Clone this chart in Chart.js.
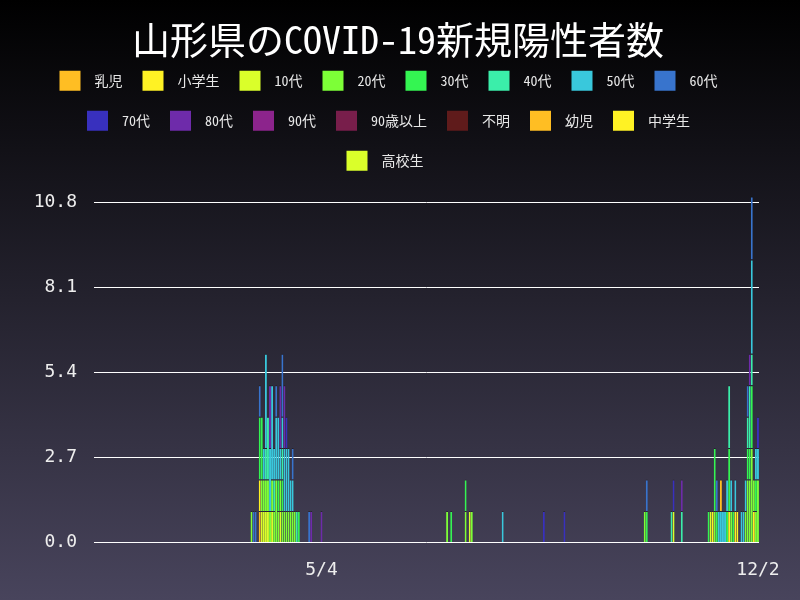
<!DOCTYPE html>
<html lang="ja">
<head>
<meta charset="utf-8">
<title>山形県のCOVID-19新規陽性者数</title>
<script src="https://cdn.jsdelivr.net/npm/chart.js@4"></script>
<style>
  html, body { margin: 0; padding: 0; }
  body { width: 800px; height: 600px; background: linear-gradient(to bottom, #000000 0%, #48445c 100%); }
  canvas { display: block; }
</style>
</head>
<body>
<canvas id="covidChart" width="800" height="600"></canvas>
<script>
// first and last day on the x axis (daily categories)
const START_DATE = [2020, 0, 15];
const END_DATE = [2020, 11, 2];
const TICK_LABELS = ['5/4', '12/2'];
const Y_TICKS = [0, 2.7, 5.4, 8.1, 10.8];

// new cases per day, [date, count] for each group
const INFANT = [['4/4', 1]];
const ELEMENTARY = [['4/4', 1], ['11/10', 1], ['11/18', 1], ['11/21', 1], ['11/22', 1], ['11/30', 1]];
const AGE_10 = [['4/5', 1], ['4/6', 1], ['4/7', 1], ['4/8', 1], ['4/10', 1], ['4/14', 1], ['7/15', 1], ['10/22', 1], ['11/9', 1]];
const AGE_20 = [['3/31', 1], ['4/5', 1], ['4/6', 1], ['4/7', 1], ['4/8', 1], ['4/9', 1], ['4/10', 1], ['4/11', 1],
  ['4/12', 2], ['4/13', 1], ['4/14', 1], ['4/15', 1], ['4/16', 1], ['4/17', 1], ['4/18', 1], ['4/19', 1], ['4/20', 1],
  ['4/21', 1], ['7/4', 1], ['7/13', 1], ['7/16', 1], ['10/8', 1], ['11/11', 1], ['11/19', 1], ['11/26', 1],
  ['11/27', 2], ['11/28', 2], ['11/29', 3], ['11/30', 1], ['12/1', 1], ['12/2', 2]];
const AGE_30 = [['4/4', 2], ['4/5', 2], ['4/13', 1], ['4/15', 1], ['4/23', 1], ['7/6', 1], ['7/13', 1], ['10/9', 1],
  ['11/8', 1], ['11/11', 2], ['11/12', 1], ['11/17', 1], ['11/18', 2], ['11/20', 1], ['11/27', 1], ['11/28', 1],
  ['11/29', 2], ['12/1', 1]];
const AGE_40 = [['4/7', 1], ['4/8', 2], ['4/11', 1], ['4/15', 1], ['4/22', 1], ['10/21', 1], ['10/26', 1], ['11/18', 2],
  ['11/27', 1], ['11/28', 2], ['11/29', 1]];
const AGE_50 = [['4/6', 1], ['4/7', 3], ['4/9', 2], ['4/10', 3], ['4/11', 1], ['4/12', 2], ['4/13', 2], ['4/14', 1],
  ['4/15', 1], ['4/16', 2], ['4/17', 2], ['4/18', 2], ['4/19', 1], ['4/20', 1], ['7/31', 1], ['11/13', 1], ['11/14', 1],
  ['11/15', 1], ['11/16', 1], ['11/17', 1], ['11/19', 1], ['11/21', 1], ['11/24', 1], ['11/25', 1], ['11/26', 1],
  ['11/29', 3], ['12/1', 1], ['12/2', 1]];
const AGE_60 = [['4/1', 1], ['4/2', 1], ['4/4', 1], ['4/12', 1], ['4/15', 2], ['4/20', 1], ['4/28', 1], ['10/9', 1],
  ['11/12', 1], ['11/27', 1], ['11/29', 2]];
const AGE_70 = [['4/17', 1], ['8/20', 1], ['8/30', 1], ['10/22', 1], ['12/2', 1]];
const AGE_80 = [['4/9', 2], ['4/14', 2], ['4/16', 2], ['4/29', 1], ['5/4', 1], ['10/26', 1], ['11/28', 1]];
const AGE_90 = [];
const AGE_OVER_90 = [];
const UNKNOWN = [];
const TODDLER = [['11/14', 1]];
const JUNIOR_HIGH = [];
const HIGH_SCHOOL = [];

const GROUPS = [
  ['乳児', INFANT, '#ffbe23'],
  ['小学生', ELEMENTARY, '#fff224'],
  ['10代', AGE_10, '#daff2a'],
  ['20代', AGE_20, '#7dff37'],
  ['30代', AGE_30, '#34f552'],
  ['40代', AGE_40, '#3beeaa'],
  ['50代', AGE_50, '#39c8dc'],
  ['60代', AGE_60, '#3874cd'],
  ['70代', AGE_70, '#3830be'],
  ['80代', AGE_80, '#6e2baa'],
  ['90代', AGE_90, '#8c248c'],
  ['90歳以上', AGE_OVER_90, '#781e4b'],
  ['不明', UNKNOWN, '#5f1b1b'],
  ['幼児', TODDLER, '#ffbe23'],
  ['中学生', JUNIOR_HIGH, '#fff224'],
  ['高校生', HIGH_SCHOOL, '#daff2a'],
];

const MONO_CJK = '"Noto Sans Mono CJK JP", "Noto Sans CJK JP", monospace';
const MONO = '"DejaVu Sans Mono", monospace';

function buildLabels() {
  const out = [];
  const d = new Date(Date.UTC(...START_DATE));
  const end = new Date(Date.UTC(...END_DATE));
  while (d <= end) {
    out.push((d.getUTCMonth() + 1) + '/' + d.getUTCDate());
    d.setUTCDate(d.getUTCDate() + 1);
  }
  return out;
}

const labels = buildLabels();

function toSeries(list) {
  const arr = labels.map(() => null);
  list.forEach(([date, n]) => { arr[labels.indexOf(date)] = n; });
  return arr;
}

const datasets = GROUPS.map(([name, list, color]) => ({
  label: name,
  data: toSeries(list),
  backgroundColor: color,
  borderColor: 'rgba(0,0,0,0.35)',
  borderWidth: { top: 1, left: 0, right: 0, bottom: 0 },
  borderSkipped: false,
  barPercentage: 0.95,
  categoryPercentage: 1,
}));

new Chart(document.getElementById('covidChart').getContext('2d'), {
  type: 'bar',
  data: { labels, datasets },
  options: {
    responsive: false,
    animation: false,
    layout: { padding: { top: 0, left: 18, right: 41, bottom: 2 } },
    plugins: {
      title: {
        display: true,
        // leading space nudges the title to the canvas centre
        text: ' 山形県のCOVID-19新規陽性者数',
        color: '#ffffff',
        font: { family: MONO_CJK, size: 38, weight: 'normal', lineHeight: 0.6 },
        padding: { top: 28, bottom: 0 },
      },
      legend: {
        display: true,
        labels: {
          color: '#e8e8e8',
          font: { family: MONO_CJK, size: 14 },
          boxWidth: 21,
          boxHeight: 20,
          padding: 20,
          // leading space pushes the text away from the box; trailing one on the
          // last item keeps it on its own row
          generateLabels: (chart) => {
            const items = Chart.defaults.plugins.legend.labels.generateLabels(chart);
            return items.map((l, i) => ({
              ...l,
              text: ' ' + l.text + (i === items.length - 1 ? ' ' : ''),
              lineWidth: 0,
            }));
          },
        },
      },
      tooltip: { enabled: false },
    },
    scales: {
      x: {
        stacked: true,
        grid: { display: false, drawTicks: false },
        border: { display: false },
        ticks: {
          autoSkip: false,
          maxRotation: 0,
          padding: 17,
          color: '#eeeeee',
          font: { family: MONO, size: 18 },
          callback: function (value) {
            const l = this.getLabelForValue(value);
            return TICK_LABELS.includes(l) ? l : null;
          },
        },
      },
      y: {
        stacked: true,
        min: 0,
        max: 11.5,
        border: { display: false },
        grid: { color: '#ffffff', lineWidth: 1, drawTicks: false },
        afterBuildTicks: (axis) => { axis.ticks = Y_TICKS.map(v => ({ value: v })); },
        afterFit: (axis) => { axis.width = 76; },
        ticks: {
          padding: 17,
          color: '#eeeeee',
          font: { family: MONO, size: 18 },
          callback: (v) => Number(v).toFixed(1),
        },
      },
    },
  },
});
</script>
</body>
</html>
